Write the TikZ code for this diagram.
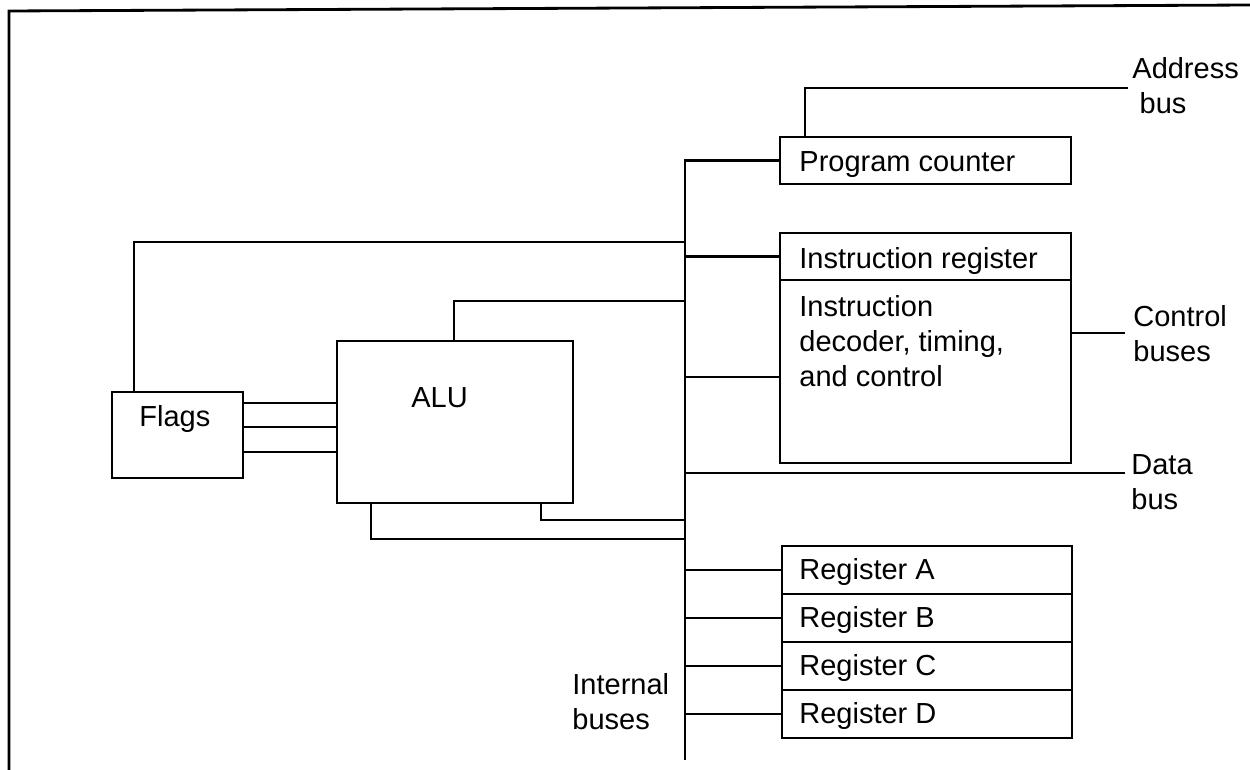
\documentclass[tikz,border=0pt]{standalone}
\usepackage{fontspec}
\setmainfont{Liberation Sans}
\begin{document}
\begin{tikzpicture}[x=0.02cm,y=-0.02cm, line width=1.6pt,
  box/.style={draw, rectangle, inner sep=0pt, outer sep=0pt, anchor=north west},
  lbl/.style={font=\fontsize{16.5}{20}\selectfont, inner sep=0pt, align=left}]
\useasboundingbox (0,0) rectangle (1250,770);
% scanned frame
\coordinate (f1) at (1250,5);
\coordinate (f2) at (9,11);
\coordinate (f3) at (9,770);
\draw (f1) -- (f2) -- (f3);
% boxes
\node[box, minimum width=5.82cm, minimum height=0.94cm] (pc) at (780,137) {};
\node[box, minimum width=5.82cm, minimum height=0.94cm] (ir) at (780,233) {};
\node[box, minimum width=5.82cm, minimum height=3.66cm] (dec) at (ir.south west) {};
\node[box, minimum width=5.8cm, minimum height=0.96cm] (ra) at (782,546) {};
\node[box, minimum width=5.8cm, minimum height=0.96cm] (rb) at (ra.south west) {};
\node[box, minimum width=5.8cm, minimum height=0.96cm] (rc) at (rb.south west) {};
\node[box, minimum width=5.8cm, minimum height=0.96cm] (rd) at (rc.south west) {};
\node[box, minimum width=4.72cm, minimum height=3.24cm] (alu) at (337,341) {};
\node[box, minimum width=2.62cm, minimum height=1.72cm] (flags) at (112,392) {};
% texts
\node[lbl, anchor=base west] (tpc) at (798,172) {Program counter};
\node[lbl, anchor=base west] (tir) at (798,268) {Instruction register};
\node[lbl, anchor=west] (tdec) at (798,341) {Instruction\\decoder, timing,\\and control};
\node[lbl, anchor=base west] (tra) at (798,579) {Register A};
\node[lbl, anchor=base west] (trb) at (798,627) {Register B};
\node[lbl, anchor=base west] (trc) at (798,675) {Register C};
\node[lbl, anchor=base west] (trd) at (798,723) {Register D};
\node[lbl, anchor=west] (talu) at (410,398) {ALU};
\node[lbl, anchor=base west] (tflags) at (138,426) {Flags};
\node[lbl, anchor=west] (taddr) at (1131,86) {Address\\\hspace*{0.25em}bus};
\node[lbl, anchor=west] (tctrl) at (1132,334) {Control\\buses};
\node[lbl, anchor=west] (tdata) at (1130,482) {Data\\bus};
\node[lbl, anchor=west] (tint) at (571,702) {Internal\\buses};
% bus
\coordinate (busx) at (685,0);
\coordinate (busbot) at (685,760);
\draw (pc.west) -- (pc.west -| busx) -- (busbot);
\draw (ir.west) -- (ir.west -| busx);
\coordinate (decin) at ([yshift=-0.11cm]dec.west);
\draw (decin) -- (decin -| busx);
\draw (ra.west) -- (ra.west -| busx);
\draw (rb.west) -- (rb.west -| busx);
\draw (rc.west) -- (rc.west -| busx);
\draw (rd.west) -- (rd.west -| busx);
% external buses
\coordinate (addrend) at (1128,88);
\draw ([xshift=0.5cm]pc.north west) |- (addrend);
\coordinate (ctrlend) at (1125,333);
\draw (dec.east |- ctrlend) -- (ctrlend);
\coordinate (dataend) at (1125,473);
\draw (dataend -| busx) -- (dataend);
% flags and ALU links
\coordinate (ftop) at (685,242);
\draw ([xshift=0.44cm]flags.north west) |- (ftop);
\coordinate (alutop) at (685,301);
\draw ([xshift=2.34cm]alu.north west) |- (alutop);
\coordinate (alubr) at (685,520);
\draw ([xshift=4.08cm]alu.south west) |- (alubr);
\coordinate (alubl) at (685,539);
\draw ([xshift=0.68cm]alu.south west) |- (alubl);
\coordinate (fa1) at ([yshift=-0.22cm]flags.north east);
\coordinate (fa2) at ([yshift=-0.70cm]flags.north east);
\coordinate (fa3) at ([yshift=-1.20cm]flags.north east);
\draw (fa1) -- (fa1 -| alu.west);
\draw (fa2) -- (fa2 -| alu.west);
\draw (fa3) -- (fa3 -| alu.west);
\end{tikzpicture}
\end{document}
